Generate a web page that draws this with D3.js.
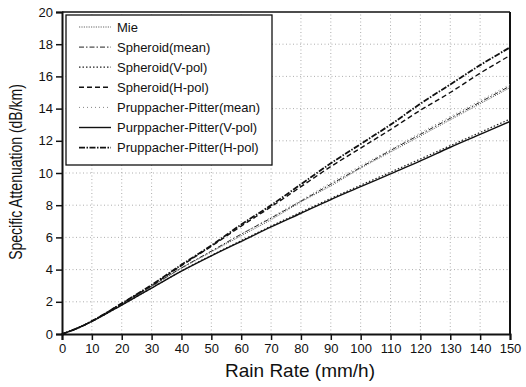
<!DOCTYPE html>
<html>
<head>
<meta charset="utf-8">
<script src="https://cdn.jsdelivr.net/npm/d3@7"></script>
<style>
  body { margin: 0; background: #fff; }
  text { font-family: "Liberation Sans", Arial, sans-serif; fill: #111; }
</style>
</head>
<body>
<div id="chart"></div>
<script>
// rain rate (mm/h)
var rainRate = [0, 5, 10, 20, 30, 40, 50, 60, 70, 80, 90, 100, 110, 120, 130, 140, 150];

// specific attenuation (dB/km)
var mie            = [0, 0.35, 0.8, 1.85, 2.95, 4.1, 5.1, 6.1, 7.1, 8.2, 9.2, 10.3, 11.3, 12.3, 13.3, 14.3, 15.3];
var spheroidMean   = [0, 0.35, 0.8, 1.87, 2.97, 4.1, 5.15, 6.2, 7.2, 8.25, 9.3, 10.35, 11.4, 12.4, 13.4, 14.4, 15.4];
var spheroidV      = [0, 0.35, 0.78, 1.8, 2.85, 3.92, 4.88, 5.8, 6.7, 7.57, 8.42, 9.24, 10.05, 10.87, 11.7, 12.52, 13.35];
var spheroidH      = [0, 0.35, 0.8, 1.9, 3.0, 4.25, 5.45, 6.7, 7.9, 9.15, 10.4, 11.55, 12.7, 13.9, 15.0, 16.2, 17.3];
var ppMean         = [0, 0.35, 0.8, 1.86, 2.95, 4.05, 5.1, 6.2, 7.25, 8.3, 9.4, 10.45, 11.45, 12.5, 13.5, 14.5, 15.5];
var ppV            = [0, 0.35, 0.78, 1.8, 2.85, 3.9, 4.85, 5.75, 6.65, 7.5, 8.35, 9.15, 9.95, 10.75, 11.6, 12.4, 13.2];
var ppH            = [0, 0.35, 0.8, 1.9, 3.05, 4.3, 5.5, 6.8, 8.0, 9.3, 10.6, 11.8, 13.0, 14.3, 15.5, 16.7, 17.8];

var seriesNames = ['Mie', 'Spheroid(mean)', 'Spheroid(V-pol)', 'Spheroid(H-pol)',
  'Pruppacher-Pitter(mean)', 'Purppacher-Pitter(V-pol)', 'Pruppacher-Pitter(H-pol)'];
var seriesValues = [mie, spheroidMean, spheroidV, spheroidH, ppMean, ppV, ppH];

var xTicks = d3.range(0, 151, 10);
var yTicks = d3.range(0, 21, 2);

// line looks per series
var styles = [
  { dash: '1.2,1.2', width: 0.9, color: '#555' },
  { dash: '5,2,1.5,2', width: 1, color: '#222' },
  { dash: '1.5,2', width: 1.2, color: '#222' },
  { dash: '5,3', width: 1.4, color: '#111' },
  { dash: '1,3', width: 0.9, color: '#777' },
  { dash: null, width: 1.4, color: '#111' },
  { dash: '6,1.5,1.5,1.5', width: 1.8, color: '#111' }
];

var width = 526, height = 387;
var margin = { top: 12, right: 16, bottom: 53, left: 62 };

var svg = d3.select('#chart').append('svg')
  .attr('width', width)
  .attr('height', height);

var x = d3.scaleLinear().domain([0, 150]).range([margin.left, width - margin.right]);
var y = d3.scaleLinear().domain([0, 20]).range([height - margin.bottom, margin.top]);

// grid
var grid = svg.append('g').attr('stroke', '#999').attr('stroke-width', 0.8).attr('stroke-dasharray', '1,2.5');
grid.selectAll('.gx').data(xTicks.slice(1, -1)).enter().append('line')
  .attr('x1', function (d) { return x(d); }).attr('x2', function (d) { return x(d); })
  .attr('y1', y(0)).attr('y2', y(20));
grid.selectAll('.gy').data(yTicks.slice(1, -1)).enter().append('line')
  .attr('x1', x(0)).attr('x2', x(150))
  .attr('y1', function (d) { return y(d); }).attr('y2', function (d) { return y(d); });

// axes
var xAxis = svg.append('g')
  .attr('transform', 'translate(0,' + y(0) + ')')
  .call(d3.axisBottom(x).tickValues(xTicks).tickSize(6).tickPadding(4));
var yAxis = svg.append('g')
  .attr('transform', 'translate(' + x(0) + ',0)')
  .call(d3.axisLeft(y).tickValues(yTicks).tickSize(6).tickPadding(3));

[xAxis, yAxis].forEach(function (a) {
  a.select('.domain').attr('stroke', '#111').attr('stroke-width', 2);
  a.selectAll('.tick line').attr('stroke', '#111').attr('stroke-width', 1.5);
  a.selectAll('.tick text').attr('font-size', 13).attr('fill', '#111')
    .attr('font-family', '"Liberation Sans", Arial, sans-serif');
});

// top and right frame
svg.append('line').attr('x1', x(0)).attr('x2', x(150)).attr('y1', y(20)).attr('y2', y(20))
  .attr('stroke', '#111').attr('stroke-width', 1.5);
svg.append('line').attr('x1', x(150)).attr('x2', x(150)).attr('y1', y(20)).attr('y2', y(0))
  .attr('stroke', '#111').attr('stroke-width', 2);

// curves
var line = d3.line()
  .x(function (d) { return x(d[0]); })
  .y(function (d) { return y(d[1]); })
  .curve(d3.curveMonotoneX);

seriesValues.forEach(function (vals, i) {
  var pts = rainRate.map(function (r, j) { return [r, vals[j]]; });
  svg.append('path')
    .datum(pts)
    .attr('d', line)
    .attr('fill', 'none')
    .attr('stroke', styles[i].color)
    .attr('stroke-width', styles[i].width)
    .attr('stroke-dasharray', styles[i].dash);
});

// legend
var legend = svg.append('g');
legend.append('rect')
  .attr('x', 66).attr('y', 15).attr('width', 206).attr('height', 150)
  .attr('fill', '#fff').attr('stroke', '#111').attr('stroke-width', 1.3);

seriesNames.forEach(function (name, i) {
  var yy = 27 + i * 20.1;
  legend.append('line')
    .attr('x1', 79).attr('x2', 111).attr('y1', yy).attr('y2', yy)
    .attr('stroke', styles[i].color)
    .attr('stroke-width', styles[i].width)
    .attr('stroke-dasharray', styles[i].dash);
  legend.append('text')
    .attr('x', 117).attr('y', yy + 4.5)
    .attr('font-size', 13)
    .text(name);
});

// axis titles
svg.append('text')
  .attr('x', 300).attr('y', 377)
  .attr('text-anchor', 'middle')
  .attr('font-size', 19)
  .text('Rain Rate (mm/h)');

svg.append('text')
  .attr('transform', 'translate(22,172) rotate(-90) scale(0.8,1)')
  .attr('text-anchor', 'middle')
  .attr('font-size', 17.5)
  .text('Specific Attenuation (dB/km)');
</script>
</body>
</html>
